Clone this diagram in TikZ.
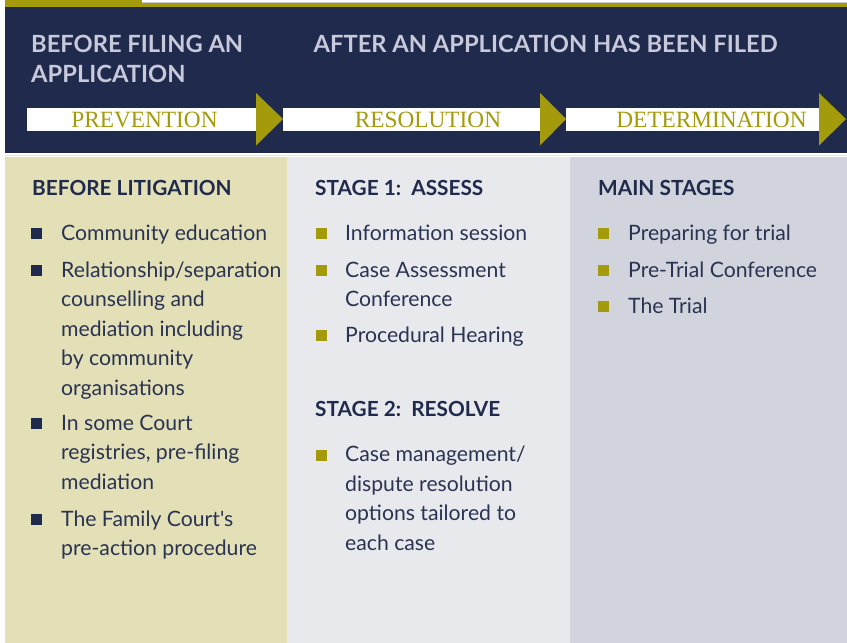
\documentclass[tikz,border=0pt]{standalone}
\usepackage{fontspec}
\setmainfont{Lato}[Ligatures=TeXOff]
\newfontfamily\barfont{Liberation Serif}
\definecolor{navybg}{HTML}{1F2A4C}
\definecolor{olive}{HTML}{A39B0B}
\definecolor{colA}{HTML}{E3E0B7}
\definecolor{colB}{HTML}{E8E9ED}
\definecolor{colC}{HTML}{D1D4DC}
\definecolor{inktext}{HTML}{2A3352}
\definecolor{hdrtext}{HTML}{C8CADB}
\definecolor{rulegray}{HTML}{C9C9C9}
% stacked lines whose baseline is the first line
\newcommand{\stk}[1]{\begin{tabular}[t]{@{}l@{}}#1\end{tabular}}
\begin{document}
\begin{tikzpicture}[x=1pt,y=-1pt,
  hdr/.style={text=hdrtext, font=\bfseries\fontsize{23.7}{30}\selectfont, anchor=base west, inner sep=0pt},
  bartext/.style={text=olive, font=\barfont\fontsize{23.3}{28}\selectfont, anchor=base, inner sep=0pt},
  colhead/.style={text=navybg, font=\bfseries\fontsize{20.8}{24}\selectfont, anchor=base west, inner sep=0pt},
  item/.style={text=inktext, font=\fontsize{21.2}{29.5}\selectfont, anchor=base west, inner sep=0pt},
  sq/.style={minimum size=11pt, inner sep=0pt, outer sep=0pt, draw=none},
  pointer/.style={fill=olive},
  band/.style={fill=white}]
\useasboundingbox (0,0) rectangle (847,643);

% top strip
\fill[olive] (5,0) rectangle (142,6.5);
\fill[rulegray] (142,1.8) rectangle (847,2.6);
\fill[olive] (142,2.8) rectangle (847,6.5);

% dark header panel
\fill[navybg] (5,6.5) rectangle (847,153.3);
\fill[rulegray!50] (5,154.5) rectangle (847,155.3);

% columns
\fill[colA] (5,157) rectangle (287,643);
\fill[colB] (287,157) rectangle (570,643);
\fill[colC] (570,157) rectangle (847,643);

% header titles
\node[hdr] (pre1) at (31,52.3) {BEFORE FILING AN};
\node[hdr] (pre2) at (31,82.3) {APPLICATION};
\node[hdr] (post) at (313.5,52.3) {AFTER AN APPLICATION HAS BEEN FILED};

% phase bands with pointers
\fill[band] (27,108) rectangle (256,130.5);
\fill[pointer] (256,93) -- (283,119) -- (256,145.5) -- cycle;
\fill[band] (283,108) rectangle (540,130.5);
\fill[pointer] (540,93) -- (566,119) -- (540,145.5) -- cycle;
\fill[band] (566,108) rectangle (819,130.5);
\fill[pointer] (819,93) -- (846,119) -- (819,145.5) -- cycle;
\node[bartext] (prev) at (144.5,127.7) {PREVENTION};
\node[bartext] (reso) at (428,127.7) {RESOLUTION};
\node[bartext] (dete) at (711.5,127.7) {DETERMINATION};

% column 1
\node[colhead] (h1) at (32,195) {BEFORE LITIGATION};
\node[sq, fill=navybg] (b11) at (36.5,233.5) {};
\node[item] (t11) at (61,240) {Community education};
\node[sq, fill=navybg] (b12) at (36.5,270.5) {};
\node[item] (t12) at (61,277) {\stk{Relationship/separation\\counselling and\\mediation including\\by community\\organisations}};
\node[sq, fill=navybg] (b13) at (36.5,423.5) {};
\node[item] (t13) at (61,430) {\stk{In some Court\\registries, pre-filing\\mediation}};
\node[sq, fill=navybg] (b14) at (36.5,519.5) {};
\node[item] (t14) at (61,526) {\stk{The Family Court's\\pre-action procedure}};

% column 2
\node[colhead] (h2) at (315,195) {STAGE 1:\ \ ASSESS};
\node[sq, fill=olive] (b21) at (321,233.5) {};
\node[item] (t21) at (345,240) {Information session};
\node[sq, fill=olive] (b22) at (321,270.5) {};
\node[item] (t22) at (345,277) {\stk{Case Assessment\\Conference}};
\node[sq, fill=olive] (b23) at (321,335.5) {};
\node[item] (t23) at (345,342) {Procedural Hearing};
\node[colhead] (h3) at (315,416) {STAGE 2:\ \ RESOLVE};
\node[sq, fill=olive] (b24) at (321,455.5) {};
\node[item] (t24) at (345,461.5) {\stk{Case management/\\dispute resolution\\options tailored to\\each case}};

% column 3
\node[colhead] (h4) at (598,195) {MAIN STAGES};
\node[sq, fill=olive] (b31) at (603.5,233.5) {};
\node[item] (t31) at (628,240) {Preparing for trial};
\node[sq, fill=olive] (b32) at (603.5,270.5) {};
\node[item] (t32) at (628,277) {Pre-Trial Conference};
\node[sq, fill=olive] (b33) at (603.5,306.5) {};
\node[item] (t33) at (628,313) {The Trial};
\end{tikzpicture}
\end{document}
